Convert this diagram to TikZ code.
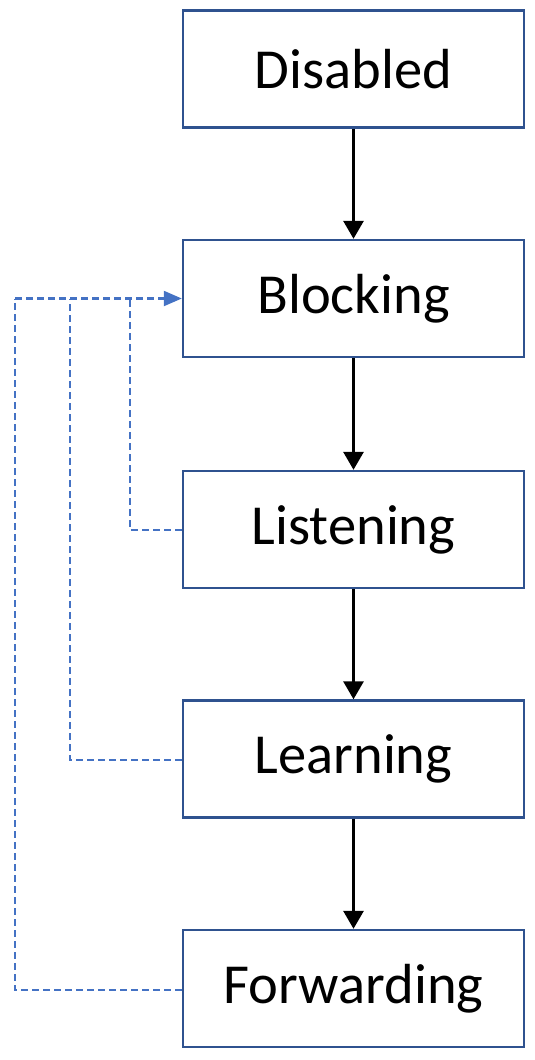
\documentclass[tikz,border=0pt]{standalone}
\usepackage{fontspec}
\setmainfont{Carlito}
\usetikzlibrary{arrows.meta}
\definecolor{boxblue}{HTML}{2F528F}
\definecolor{dashblue}{HTML}{4472C4}
\begin{document}
\begin{tikzpicture}[x=1pt,y=-1pt,
  state/.style={draw=boxblue,line width=2.4pt,fill=white,minimum width=341pt,minimum height=117pt,inner sep=0pt,font=\fontsize{56.5}{64}\selectfont},
  flow/.style={line width=3pt,-{Triangle[length=18pt,width=20pt]}},
  back/.style={draw=dashblue,line width=2.2pt,dash pattern=on 7pt off 4pt}]
\useasboundingbox (0,0) rectangle (535,1060);
\node[state] (dis) at (353.5,69) {Disabled};
\node[state] (blo) at (353.5,298.5) {Blocking};
\node[state] (lis) at (353.5,529.5) {Listening};
\node[state] (lea) at (353.5,759) {Learning};
\node[state] (fwd) at (353.5,988.5) {Forwarding};
\draw[flow] (dis.south) -- (blo.north);
\draw[flow] (blo.south) -- (lis.north);
\draw[flow] (lis.south) -- (lea.north);
\draw[flow] (lea.south) -- (fwd.north);
\coordinate (c1) at (130,530);
\coordinate (c2) at (70,760);
\coordinate (c3) at (15,990);
\draw[back] (lis.west |- c1) -- (c1) -- (c1 |- blo.west);
\draw[back] (lea.west |- c2) -- (c2) -- (c2 |- blo.west);
\draw[back] (fwd.west |- c3) -- (c3) -- (c3 |- blo.west);
\draw[back,-{Triangle[length=18pt,width=15pt]}] (c3 |- blo.west) -- (blo.west);
\end{tikzpicture}
\end{document}
